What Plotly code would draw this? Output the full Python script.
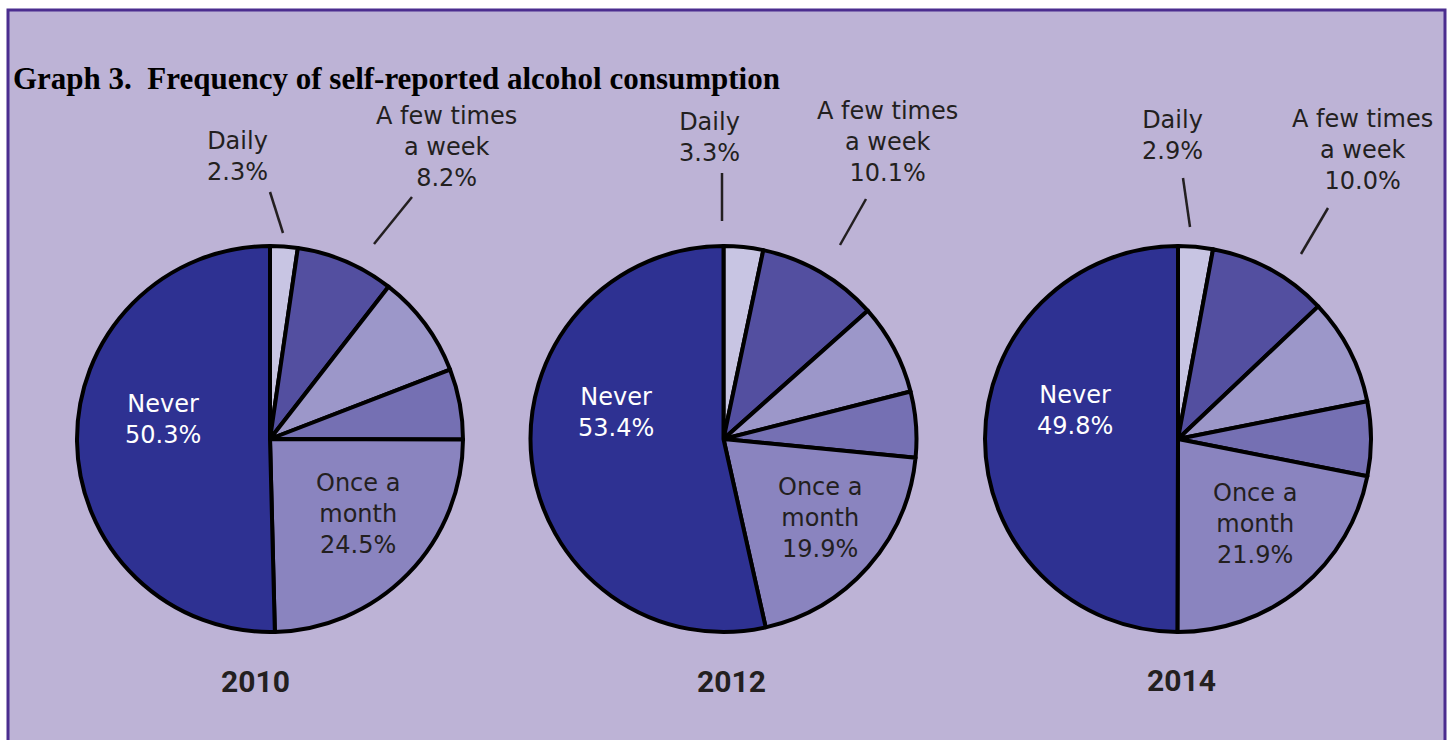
import plotly.graph_objects as go

W, H = 1450, 740

years = ["2010", "2012", "2014"]
categories = ["Daily", "A few times a week", "Once a week", "2-3 times a month", "Once a month", "Never"]
values_2010 = [2.3, 8.2, 8.6, 5.9, 24.5, 50.3]
values_2012 = [3.3, 10.1, 7.6, 5.5, 19.9, 53.4]
values_2014 = [2.9, 10.0, 8.9, 6.2, 21.9, 49.8]
all_values = [values_2010, values_2012, values_2014]

label_daily = "Daily"
label_few = "A few times<br>a week"
label_once = "Once a<br>month"
label_never = "Never"
title_text = "Graph 3.&nbsp; Frequency of self-reported alcohol consumption"

colors = ["#c8c5e3", "#534fa0", "#9c97c9", "#7570b3", "#8a84bf", "#2e3192"]
bg = "#bdb3d6"
border = "#4b2d8f"
txt = "#231f20"

# layout (pixel positions)
centers = [(270, 439), (723.5, 439), (1178, 439)]
diam = 386
daily_pos = [(237, 157), (709, 137), (1172, 135)]
few_pos = [(446, 147), (888, 142), (1362, 150)]
never_pos = [(163, 419), (616, 412), (1075, 410)]
once_pos = [(358, 514), (820, 518), (1255, 524)]
year_pos = [(256, 681), (731, 681), (1181, 680)]
daily_lines = [((270, 192), (283, 233)), ((722, 173), (722, 221)), ((1183, 178), (1190, 227))]
few_lines = [((412, 197), (374, 244)), ((866, 199), (840, 245)), ((1328, 208), (1301, 254))]


def px(x):
    return x / W


def py(y):
    return 1 - y / H


fig = go.Figure()
shapes = [dict(type="rect", xref="paper", yref="paper", x0=px(8), x1=px(1445), y0=-0.05, y1=py(10),
               fillcolor=bg, line=dict(color=border, width=3), layer="below")]
annotations = []

for i, (yr, vals) in enumerate(zip(years, all_values)):
    cx, cy = centers[i]
    fig.add_trace(go.Pie(
        labels=categories, values=vals, sort=False, direction="clockwise", rotation=0,
        marker=dict(colors=colors, line=dict(color="black", width=4)),
        textinfo="none", showlegend=False, name=yr,
        domain=dict(x=[px(cx - 205), px(cx + 205)], y=[py(cy + diam / 2), py(cy - diam / 2)]),
    ))
    d = dict(zip(categories, vals))
    texts = [
        (daily_pos[i], f"{label_daily}<br>{d['Daily']:.1f}%", txt),
        (few_pos[i], f"{label_few}<br>{d['A few times a week']:.1f}%", txt),
        (never_pos[i], f"{label_never}<br>{d['Never']:.1f}%", "white"),
        (once_pos[i], f"{label_once}<br>{d['Once a month']:.1f}%", txt),
    ]
    for (x, y), t, c in texts:
        annotations.append(dict(x=px(x), y=py(y), xref="paper", yref="paper", text=t, showarrow=False,
                                xanchor="center", yanchor="middle",
                                font=dict(family="DejaVu Sans", size=24, color=c)))
    annotations.append(dict(x=px(year_pos[i][0]), y=py(year_pos[i][1]), xref="paper", yref="paper",
                            text=f"<b>{yr}</b>", showarrow=False, xanchor="center", yanchor="middle",
                            font=dict(family="Roboto", size=30, color=txt)))
    for (a, b) in (daily_lines[i], few_lines[i]):
        shapes.append(dict(type="line", xref="paper", yref="paper", x0=px(a[0]), y0=py(a[1]),
                           x1=px(b[0]), y1=py(b[1]), line=dict(color=txt, width=2.5)))

annotations.append(dict(x=px(11), y=py(78), xref="paper", yref="paper", text=f"<b>{title_text}</b>",
                        showarrow=False, xanchor="left", yanchor="middle",
                        font=dict(family="Liberation Serif", size=31, color="black")))

fig.update_layout(width=W, height=H, margin=dict(l=0, r=0, t=0, b=0), paper_bgcolor="white",
                  plot_bgcolor="white", shapes=shapes, annotations=annotations)
fig.write_html("out.html")
